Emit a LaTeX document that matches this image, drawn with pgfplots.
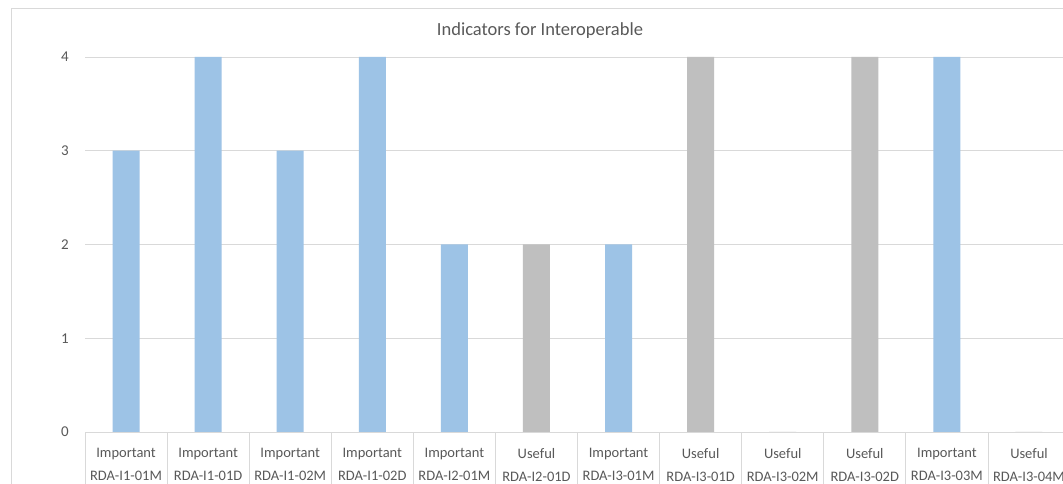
\documentclass[border=0pt]{standalone}
\usepackage{fontspec}
\setmainfont{Carlito}
\usepackage{pgfplots}
\pgfplotsset{compat=1.18}
\definecolor{impblue}{HTML}{9DC3E6}
\definecolor{usegray}{HTML}{BFBFBF}
\definecolor{txt}{HTML}{595959}
\definecolor{gridc}{HTML}{D9D9D9}
\begin{document}
\begin{tikzpicture}
\useasboundingbox (0pt,0pt) rectangle (1063pt,484pt);
\clip (0pt,0pt) rectangle (1063pt,484pt);
\fill[white] (0pt,0pt) rectangle (1063pt,484pt);
\draw[gridc] (11pt,-5pt) -- (11pt,476pt) -- (1070pt,476pt);
\node[text=txt,font=\fontsize{18.5}{22}\selectfont] at (540pt,453pt) {Indicators for Interoperable};
\begin{axis}[
  at={(85pt,52pt)}, anchor=south west,
  scale only axis, width=985pt, height=375pt,
  xmin=-0.5, xmax=11.5, ymin=0, ymax=4,
  ybar, bar width=27pt, bar shift=0pt,
  axis lines*=left,
  y axis line style={draw=none},
  x axis line style={gridc, line width=0.8pt},
  ymajorgrids, grid style={gridc, line width=0.8pt},
  ytick={0,1,2,3,4},
  xtick={0,...,11},
  minor xtick={-0.5,0.5,...,11.5},
  major tick length=0pt,
  minor tick length=52pt,
  tick align=outside,
  minor tick style={gridc, line width=0.8pt},
  /pgf/number format/assume math mode=true,
  every tick label/.append style={text=txt},
  yticklabel style={font=\fontsize{15}{18}\selectfont, inner sep=0pt, xshift=-16pt},
  xticklabel style={font=\fontsize{14.5}{23}\selectfont, align=center, inner sep=0pt, yshift=-16pt},
  xticklabels={Important\\RDA-I1-01M, Important\\RDA-I1-01D, Important\\RDA-I1-02M,
    Important\\RDA-I1-02D, Important\\RDA-I2-01M, Useful\\RDA-I2-01D,
    Important\\RDA-I3-01M, Useful\\RDA-I3-01D, Useful\\RDA-I3-02M,
    Useful\\RDA-I3-02D, Important\\RDA-I3-03M, Useful\\RDA-I3-04M},
]
\addplot[fill=impblue, draw=none] coordinates {(0,3) (1,4) (2,3) (3,4) (4,2) (6,2) (10,4)};
\addplot[fill=usegray, draw=none] coordinates {(5,2) (7,4) (8,0) (9,4) (11,0)};
\end{axis}
\end{tikzpicture}
\end{document}
